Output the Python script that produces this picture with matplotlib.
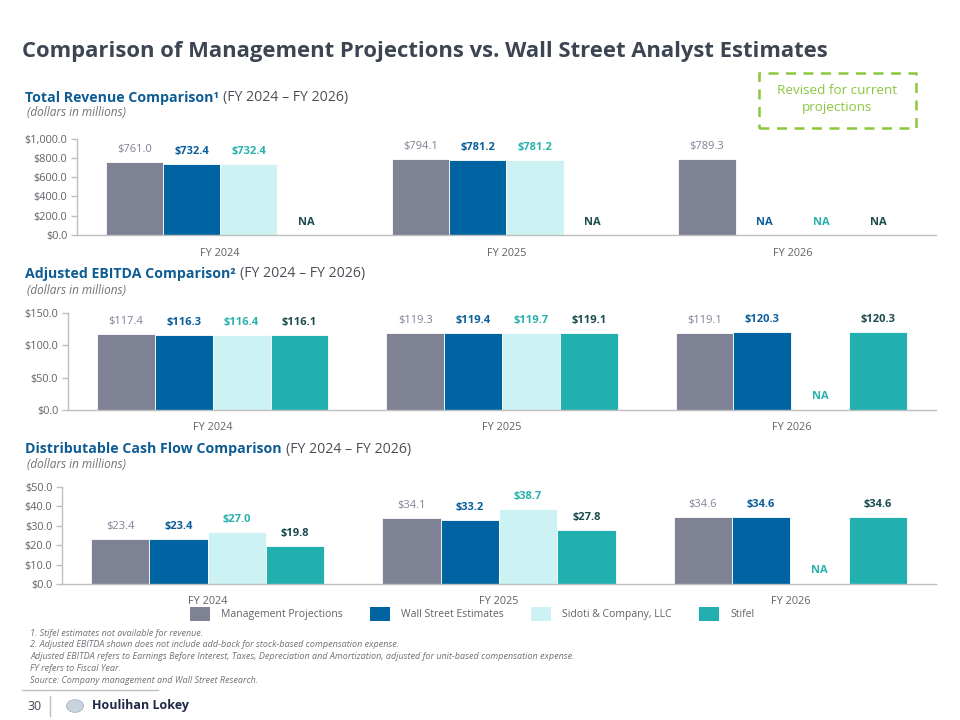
import matplotlib.pyplot as plt
from matplotlib.patches import Rectangle, Circle, Patch
import numpy as np

plt.rcParams['font.family'] = ['Open Sans', 'DejaVu Sans']

# Data (NA = np.nan)
NA = np.nan
years = ["FY 2024", "FY 2025", "FY 2026"]
series = ["Management Projections", "Wall Street Estimates", "Sidoti & Company, LLC", "Stifel"]

rev_mgmt = [761.0, 794.1, 789.3]
rev_ws = [732.4, 781.2, NA]
rev_sidoti = [732.4, 781.2, NA]
rev_stifel = [NA, NA, NA]

ebitda_mgmt = [117.4, 119.3, 119.1]
ebitda_ws = [116.3, 119.4, 120.3]
ebitda_sidoti = [116.4, 119.7, NA]
ebitda_stifel = [116.1, 119.1, 120.3]

dcf_mgmt = [23.4, 34.1, 34.6]
dcf_ws = [23.4, 33.2, 34.6]
dcf_sidoti = [27.0, 38.7, NA]
dcf_stifel = [19.8, 27.8, 34.6]

footnotes = [
    "1. Stifel estimates not available for revenue.",
    "2. Adjusted EBITDA shown does not include add-back for stock-based compensation expense.",
    "Adjusted EBITDA refers to Earnings Before Interest, Taxes, Depreciation and Amortization, adjusted for unit-based compensation expense.",
    "FY refers to Fiscal Year.",
    "Source: Company management and Wall Street Research.",
]

# Colours
bar_colors = ["#7E8294", "#0064A3", "#CDF2F3", "#22AFAF"]
label_colors = ["#7E8294", "#0B5E9C", "#2AB1AD", "#1C4B50"]
label_weights = ["normal", "bold", "bold", "bold"]
axis_grey = "#BFBFBF"
text_grey = "#5F6368"
section_blue = "#0D5C93"

fig = plt.figure(figsize=(9.6, 7.2), dpi=100)


def bar_panel(rect, data, ymax, ystep, fmt):
    ax = fig.add_axes(rect)
    x = np.arange(len(years))
    w = 0.2
    for i, vals in enumerate(data):
        pos = x + (i - 1.5) * w
        ax.bar(pos, vals, w, color=bar_colors[i], edgecolor="white", linewidth=0.6)
        for p, v in zip(pos, vals):
            if np.isnan(v):
                ax.text(p, ymax * 0.135, "NA", ha="center", va="center", fontsize=8,
                        color=label_colors[i], fontweight="bold")
            else:
                ax.annotate(f"${v:,.1f}", (p, v), xytext=(0, 9), textcoords="offset points",
                            ha="center", va="center", fontsize=8,
                            color=label_colors[i], fontweight=label_weights[i])
    ax.set_xlim(-0.5, 2.5)
    ax.set_ylim(0, ymax)
    ticks = np.arange(0, ymax + ystep / 2, ystep)
    ax.set_yticks(ticks)
    ax.set_yticklabels([fmt.format(t) for t in ticks])
    ax.set_xticks(x)
    ax.set_xticklabels(years)
    for s in ["top", "right"]:
        ax.spines[s].set_visible(False)
    for s in ["left", "bottom"]:
        ax.spines[s].set_color(axis_grey)
        ax.spines[s].set_linewidth(1.0)
    ax.tick_params(axis="y", colors=axis_grey, labelcolor=text_grey, labelsize=7.8, length=4, width=1, pad=3)
    ax.tick_params(axis="x", length=0, labelcolor=text_grey, labelsize=7.8, pad=9)
    return ax


ax1 = bar_panel([0.0802, 0.6736, 0.8948, 0.1338],
                [rev_mgmt, rev_ws, rev_sidoti, rev_stifel], 1000, 200, "${:,.1f}")
ax2 = bar_panel([0.0708, 0.4306, 0.9042, 0.1347],
                [ebitda_mgmt, ebitda_ws, ebitda_sidoti, ebitda_stifel], 150, 50, "${:,.1f}")
ax3 = bar_panel([0.0646, 0.1889, 0.9104, 0.1347],
                [dcf_mgmt, dcf_ws, dcf_sidoti, dcf_stifel], 50, 10, "${:,.1f}")

# Title
fig.text(22 / 960, 1 - 52 / 720, "Comparison of Management Projections vs. Wall Street Analyst Estimates",
         fontsize=15.8, fontweight="bold", color="#3E4552", va="center", ha="left")

# Section headings: bold blue part + grey period part
fig.canvas.draw()
renderer = fig.canvas.get_renderer()


def heading(y, bold_txt, rest_txt, sub_y):
    t = fig.text(25 / 960, 1 - y / 720, bold_txt, fontsize=10.2, fontweight="bold",
                 color=section_blue, va="center", ha="left")
    bb = t.get_window_extent(renderer=renderer)
    fig.text((bb.x1 + 4) / 960, 1 - y / 720, rest_txt, fontsize=10.2,
             color="#4A4F57", va="center", ha="left")
    fig.text(27 / 960, 1 - sub_y / 720, "(dollars in millions)", fontsize=8.5, style="italic",
             color="#6E7277", va="center", ha="left")


heading(98, "Total Revenue Comparison\u00b9", "(FY 2024 \u2013 FY 2026)", 112)
heading(274, "Adjusted EBITDA Comparison\u00b2", "(FY 2024 \u2013 FY 2026)", 291)
heading(449, "Distributable Cash Flow Comparison", "(FY 2024 \u2013 FY 2026)", 464)

# Dashed "Revised" box
fig.patches.append(Rectangle((759 / 960, 1 - 128 / 720), 157 / 960, 55 / 720,
                             transform=fig.transFigure, fill=False, edgecolor="#8CC63F",
                             linewidth=1.8, linestyle=(0, (4, 3))))
fig.text(837 / 960, 1 - 99 / 720, "Revised for current\nprojections", fontsize=9.7,
         color="#8CC63F", ha="center", va="center", linespacing=1.5)

# Legend
handles = [Patch(facecolor=c, edgecolor="none") for c in bar_colors]
fig.legend(handles, series, loc="center", bbox_to_anchor=(472 / 960, 1 - 614 / 720),
           ncol=4, frameon=False, fontsize=7.5, handlelength=1.9, handleheight=1.6,
           handletextpad=1.1, columnspacing=2.6, labelcolor=text_grey)

# Footnotes
for i, note in enumerate(footnotes):
    fig.text(30 / 960, 1 - (633 + i * 11.8) / 720, note, fontsize=6.5, style="italic",
             color="#6E7277", va="center", ha="left")

# Footer
fig.add_artist(plt.Line2D([22 / 960, 158 / 960], [1 - 690 / 720, 1 - 690 / 720],
                          transform=fig.transFigure, color="#BFBFBF", linewidth=1))
fig.add_artist(plt.Line2D([50 / 960, 50 / 960], [1 - 696 / 720, 1 - 716 / 720],
                          transform=fig.transFigure, color="#BFBFBF", linewidth=1))
fig.text(28 / 960, 1 - 706 / 720, "30", fontsize=9, color="#3E4552", va="center", ha="left")
fig.patches.append(Circle((75 / 960, 1 - 706 / 720), 8.5 / 960, transform=fig.transFigure,
                          facecolor="#C9D3DE", edgecolor="#A9B7C6", linewidth=0.6))
fig.text(92 / 960, 1 - 706 / 720, "Houlihan Lokey", fontsize=9, fontweight="bold",
         color="#1E2A45", va="center", ha="left")

fig.savefig("out.png", dpi=100)
